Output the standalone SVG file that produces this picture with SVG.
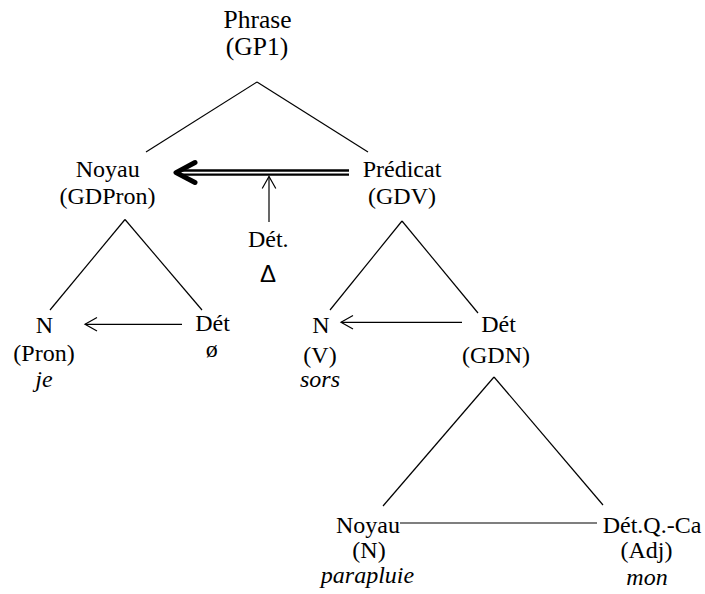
<svg xmlns="http://www.w3.org/2000/svg" width="705" height="594" viewBox="0 0 705 594">
<defs>
<style>
.t{font-family:'Times New Roman','Liberation Serif',Times,serif;font-size:24px;fill:#000;text-anchor:middle}
.it{font-style:italic}
.top{font-size:25.5px}
.sans{font-family:'Liberation Sans',Arial,sans-serif}
.ln{stroke:#000;stroke-width:1.2;fill:none}
.dbl{stroke:#000;stroke-width:2.3;fill:none}
.head{stroke:#000;stroke-width:5;fill:none;stroke-linecap:round;stroke-linejoin:round}
</style>
<marker id="open" viewBox="-14 -8 16 16" markerWidth="16" markerHeight="16" refX="0" refY="0" markerUnits="userSpaceOnUse" orient="auto">
<path d="M -12 -6.8 L 0 0 L -12 6.8" fill="none" stroke="#000" stroke-width="1.2"/>
</marker>
</defs>
<rect width="705" height="594" fill="#fff"/>
<g id="connectors">
<line class="ln" x1="257" y1="82" x2="146" y2="152"/>
<line class="ln" x1="257" y1="82" x2="368" y2="152"/>
<line class="ln" x1="125" y1="219.5" x2="50" y2="310"/>
<line class="ln" x1="125" y1="219.5" x2="202" y2="310"/>
<line class="ln" x1="402" y1="221" x2="330" y2="310"/>
<line class="ln" x1="402" y1="221" x2="478" y2="313"/>
<line class="ln" x1="494" y1="377" x2="383" y2="506"/>
<line class="ln" x1="494" y1="377" x2="603" y2="505"/>
<line class="ln" x1="400" y1="523" x2="597" y2="523"/>
<line class="ln" x1="182" y1="324.3" x2="85" y2="324.3" marker-end="url(#open)"/>
<line class="ln" x1="462" y1="322.3" x2="341" y2="322.3" marker-end="url(#open)"/>
<line class="ln" x1="269" y1="222" x2="269" y2="176.5" marker-end="url(#open)"/>
<line class="dbl" x1="178" y1="170.5" x2="349" y2="170.5"/>
<line class="dbl" x1="178" y1="174.7" x2="349" y2="174.7"/>
<polyline class="head" points="195,162.5 176,172.6 195,182.5"/>
</g>
<g id="node-phrase">
<text class="t top" x="257.5" y="28">Phrase</text>
<text class="t top" x="257" y="55">(GP1)</text>
</g>
<g id="node-noyau">
<text class="t" x="107.7" y="177">Noyau</text>
<text class="t" x="107.5" y="204">(GDPron)</text>
</g>
<g id="node-predicat">
<text class="t" x="402" y="177">Prédicat</text>
<text class="t" x="402" y="204">(GDV)</text>
</g>
<g id="node-det-delta">
<text class="t" x="268.3" y="246.7">Dét.</text>
<text class="t sans" x="268" y="281.7">Δ</text>
</g>
<g id="node-n-pron">
<text class="t" x="44.5" y="333">N</text>
<text class="t" x="44" y="361">(Pron)</text>
<text class="t it" x="44" y="386.5">je</text>
</g>
<g id="node-det-zero">
<text class="t" x="212.5" y="330.5">Dét</text>
<text class="t" x="211.7" y="357">ø</text>
</g>
<g id="node-n-v">
<text class="t" x="321" y="332.5">N</text>
<text class="t" x="320" y="362.5">(V)</text>
<text class="t it" x="320" y="387">sors</text>
</g>
<g id="node-det-gdn">
<text class="t" x="498.5" y="332">Dét</text>
<text class="t" x="496" y="362.5">(GDN)</text>
</g>
<g id="node-noyau-n">
<text class="t" x="368" y="533">Noyau</text>
<text class="t" x="369" y="558">(N)</text>
<text class="t it" x="367.5" y="582.5">parapluie</text>
</g>
<g id="node-det-qca">
<text class="t" x="652" y="532.5">Dét.Q.-Ca</text>
<text class="t" x="646.5" y="558.3">(Adj)</text>
<text class="t it" x="647" y="585">mon</text>
</g>
</svg>
